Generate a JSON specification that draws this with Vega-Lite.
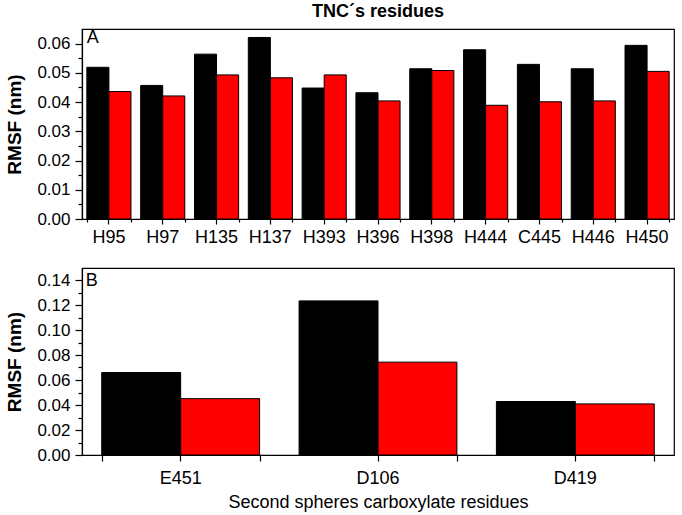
{
  "$schema": "https://vega.github.io/schema/vega-lite/v6.json",
  "padding": {"left": 5, "right": 1, "top": 2, "bottom": 2},
  "config": {
    "view": {"stroke": "black", "strokeWidth": 1.2},
    "font": "Liberation Sans, Arial",
    "axis": {
      "domainColor": "black", "tickColor": "black", "labelColor": "black", "titleColor": "black",
      "grid": false, "domainWidth": 1.2, "tickWidth": 1.2,
      "labelFont": "Liberation Sans, Arial",
      "titleFont": "Liberation Sans, Arial",
      "labelFontSize": 17, "titleFontSize": 19, "titleFontWeight": "bold"
    },
    "concat": {"spacing": 20}
  },
  "resolve": {"scale": {"x": "independent", "xOffset": "independent", "y": "independent"}},
  "datasets": {
    "a": [
      {"residue": "H95", "series": "s1", "rmsf": 0.0519}, {"residue": "H95", "series": "s2", "rmsf": 0.0436},
      {"residue": "H97", "series": "s1", "rmsf": 0.0457}, {"residue": "H97", "series": "s2", "rmsf": 0.0421},
      {"residue": "H135", "series": "s1", "rmsf": 0.0564}, {"residue": "H135", "series": "s2", "rmsf": 0.0493},
      {"residue": "H137", "series": "s1", "rmsf": 0.0621}, {"residue": "H137", "series": "s2", "rmsf": 0.0483},
      {"residue": "H393", "series": "s1", "rmsf": 0.0448}, {"residue": "H393", "series": "s2", "rmsf": 0.0493},
      {"residue": "H396", "series": "s1", "rmsf": 0.0432}, {"residue": "H396", "series": "s2", "rmsf": 0.0404},
      {"residue": "H398", "series": "s1", "rmsf": 0.0514}, {"residue": "H398", "series": "s2", "rmsf": 0.0508},
      {"residue": "H444", "series": "s1", "rmsf": 0.0579}, {"residue": "H444", "series": "s2", "rmsf": 0.0389},
      {"residue": "C445", "series": "s1", "rmsf": 0.0529}, {"residue": "C445", "series": "s2", "rmsf": 0.0401},
      {"residue": "H446", "series": "s1", "rmsf": 0.0514}, {"residue": "H446", "series": "s2", "rmsf": 0.0404},
      {"residue": "H450", "series": "s1", "rmsf": 0.0594}, {"residue": "H450", "series": "s2", "rmsf": 0.0505}
    ],
    "b": [
      {"residue": "E451", "series": "s1", "rmsf": 0.066}, {"residue": "E451", "series": "s2", "rmsf": 0.0451},
      {"residue": "D106", "series": "s1", "rmsf": 0.1233}, {"residue": "D106", "series": "s2", "rmsf": 0.0743},
      {"residue": "D419", "series": "s1", "rmsf": 0.0428}, {"residue": "D419", "series": "s2", "rmsf": 0.0409}
    ]
  },
  "vconcat": [
    {
      "title": {"text": "TNC´s residues", "fontSize": 18, "fontWeight": "bold", "font": "Liberation Sans, Arial", "offset": 8, "color": "black"},
      "width": 592, "height": 190,
      "data": {"name": "a"},
      "resolve": {"axis": {"y": "independent", "x": "independent"}},
      "layer": [
        {
          "mark": {"type": "bar", "stroke": "black", "strokeWidth": 1},
          "encoding": {
            "x": {"field": "residue", "type": "nominal", "sort": null,
                  "scale": {"type": "band", "paddingInner": 0.18, "paddingOuter": 0.09},
                  "axis": {"orient": "bottom", "title": null, "ticks": true, "tickSize": 5, "labelAngle": 0, "labelPadding": 4, "labelFontSize": 18}},
            "xOffset": {"field": "series", "type": "nominal", "sort": null},
            "y": {"field": "rmsf", "type": "quantitative",
                  "scale": {"domain": [0, 0.065], "nice": false},
                  "axis": {"orient": "left", "title": "RMSF (nm)", "values": [0, 0.01, 0.02, 0.03, 0.04, 0.05, 0.06], "format": ".2f", "tickSize": 7, "labelPadding": 5, "titlePadding": 12}},
            "color": {"field": "series", "type": "nominal", "scale": {"domain": ["s1", "s2"], "range": ["#000000", "#ff0000"]}, "legend": null}
          }
        },
        {
          "transform": [{"filter": {"field": "residue", "equal": "H95"}}, {"filter": {"field": "series", "equal": "s1"}}],
          "mark": {"type": "text", "align": "left", "baseline": "middle", "fontSize": 18, "dx": 0},
          "encoding": {
            "x": {"field": "residue", "type": "nominal", "sort": null, "bandPosition": 0,
                  "scale": {"type": "band"},
                  "axis": {"orient": "bottom", "title": null, "labels": false, "domain": false, "tickBand": "extent", "tickSize": 3}},
            "y": {"datum": 0.0618, "axis": {"orient": "left", "title": null, "labels": false, "domain": false, "values": [0.005, 0.015, 0.025, 0.035, 0.045, 0.055], "tickSize": 4}},
            "text": {"value": "A"}
          }
        }
      ]
    },
    {
      "width": 592, "height": 187,
      "data": {"name": "b"},
      "resolve": {"axis": {"y": "independent", "x": "independent"}},
      "layer": [
        {
          "mark": {"type": "bar", "stroke": "black", "strokeWidth": 1},
          "encoding": {
            "x": {"field": "residue", "type": "nominal", "sort": null,
                  "scale": {"type": "band", "paddingInner": 0.2, "paddingOuter": 0.1},
                  "axis": {"orient": "bottom", "title": "Second spheres carboxylate residues", "titleFontWeight": "normal", "titleFontSize": 18, "ticks": true, "tickSize": 6, "labelAngle": 0, "labelPadding": 8, "labelFontSize": 18, "titlePadding": 6}},
            "xOffset": {"field": "series", "type": "nominal", "sort": null},
            "y": {"field": "rmsf", "type": "quantitative",
                  "scale": {"domain": [0, 0.1496], "nice": false},
                  "axis": {"orient": "left", "title": "RMSF (nm)", "values": [0, 0.02, 0.04, 0.06, 0.08, 0.1, 0.12, 0.14], "format": ".2f", "tickSize": 7, "labelPadding": 5, "titlePadding": 12}},
            "color": {"field": "series", "type": "nominal", "scale": {"domain": ["s1", "s2"], "range": ["#000000", "#ff0000"]}, "legend": null}
          }
        },
        {
          "transform": [{"filter": {"field": "residue", "equal": "E451"}}, {"filter": {"field": "series", "equal": "s1"}}],
          "mark": {"type": "text", "align": "left", "baseline": "middle", "fontSize": 18, "dx": -16},
          "encoding": {
            "x": {"field": "residue", "type": "nominal", "sort": null, "bandPosition": 0,
                  "scale": {"type": "band"},
                  "axis": {"orient": "bottom", "title": null, "labels": false, "domain": false, "tickBand": "extent", "tickSize": 6}},
            "y": {"datum": 0.1395, "axis": {"orient": "left", "title": null, "labels": false, "domain": false, "values": [0.01, 0.03, 0.05, 0.07, 0.09, 0.11, 0.13], "tickSize": 4}},
            "text": {"value": "B"}
          }
        }
      ]
    }
  ]
}
